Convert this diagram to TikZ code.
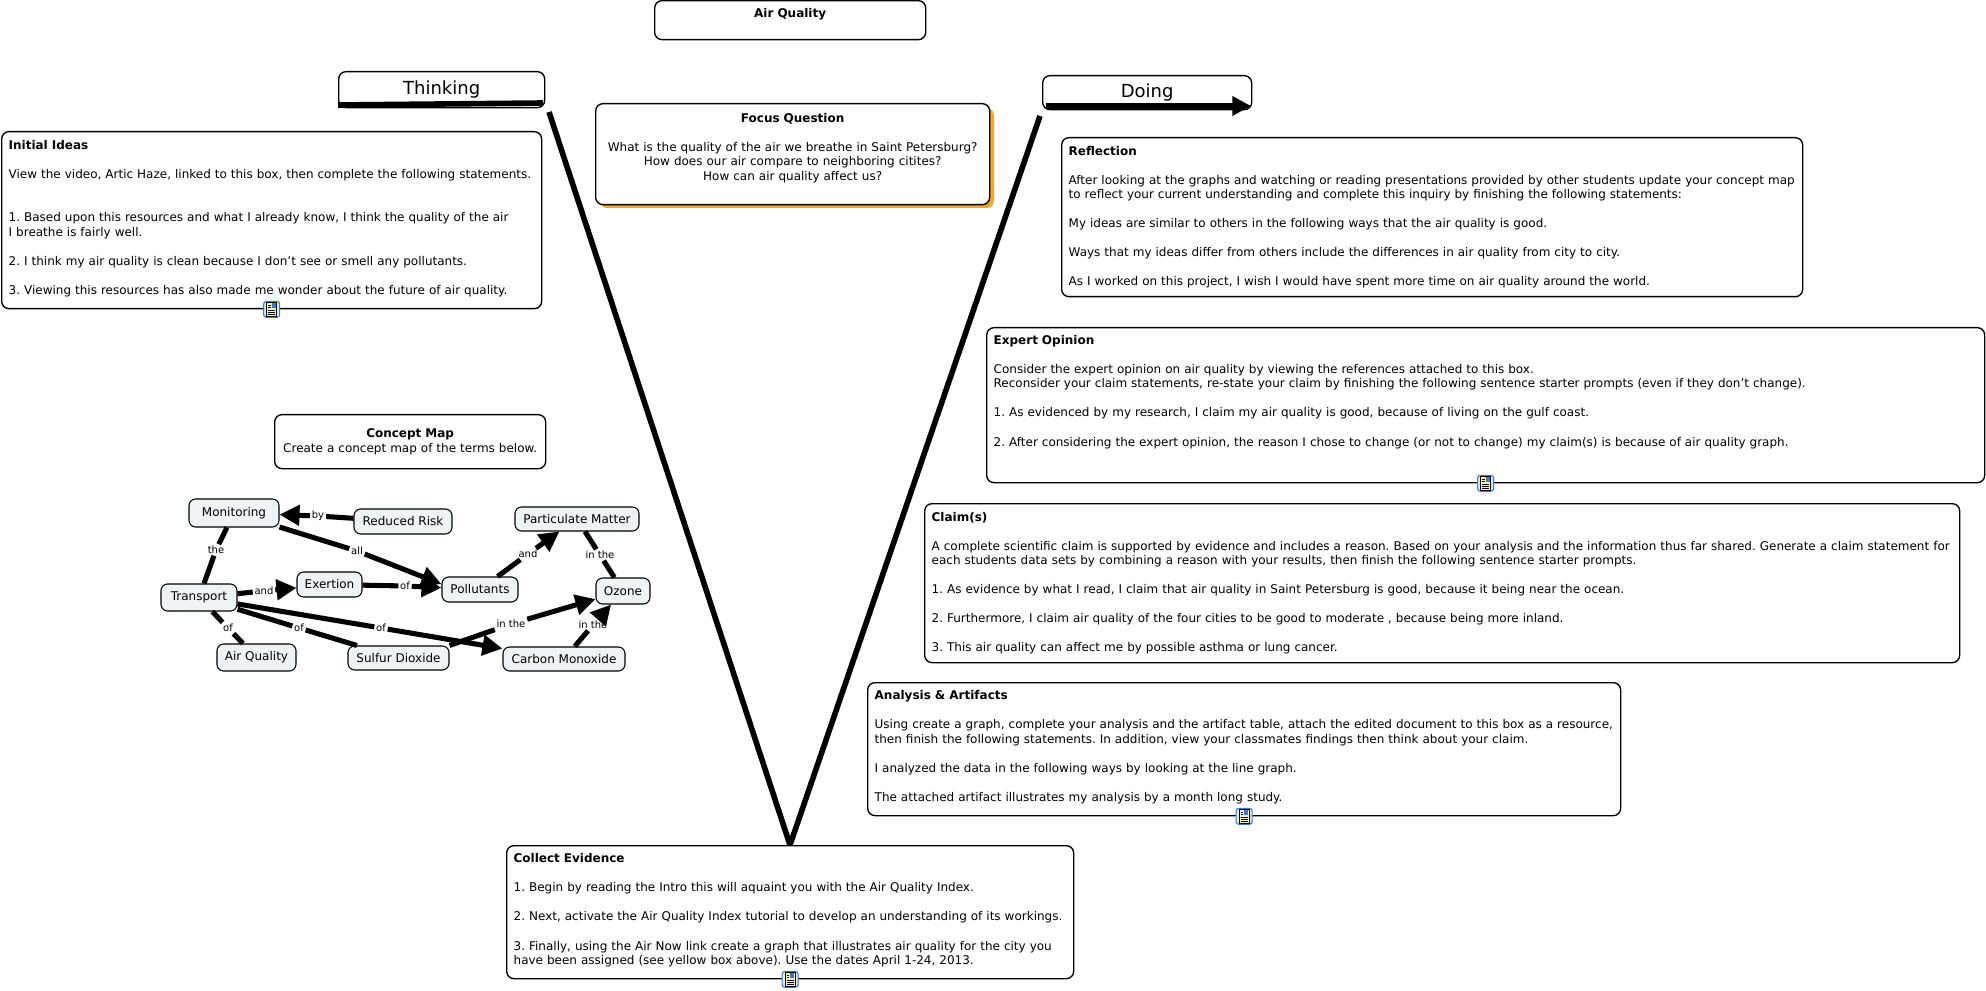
\documentclass[tikz,border=0pt]{standalone}
\usepackage{fontspec}
\setmainfont{DejaVu Sans}
\usepackage{xcolor}
\usetikzlibrary{arrows.meta, calc}
\definecolor{conceptfill}{HTML}{EEF4F6}
\definecolor{shadeorange}{HTML}{F5A623}
\definecolor{iconblue}{HTML}{3B7CC4}
\definecolor{iconfill}{HTML}{DCE9F7}
\definecolor{iconpage}{HTML}{FBF3B8}
\frenchspacing
\def\lifted{\\[-6.4pt]\mbox{}}

\begin{document}
\begin{tikzpicture}[
    x=0.75pt, y=-0.75pt,
    panel/.style 2 args={
        rectangle,
        draw=black,
        fill=white,
        rounded corners=5.5pt,
        line width=1pt,
        anchor=north west,
        inner sep=0pt,
        minimum width=#1*0.75pt,
        minimum height=#2*0.75pt,
        text width=(#1-14)*0.75pt,
        font=\fontsize{9}{10.9}\selectfont
    },
    concept/.style={
        rectangle,
        draw=black,
        fill=conceptfill,
        rounded corners=5pt,
        line width=0.8pt,
        inner sep=0pt,
        font=\fontsize{9}{11}\selectfont
    },
    lbl/.style={fill=white, inner sep=1.2pt, font=\fontsize{7.5}{9}\selectfont},
    link/.style={line width=3.8pt},
    arrow/.style={-{Triangle[length=15pt, width=15pt]}, line width=3.8pt},
    vee/.style={line width=4.2pt, miter limit=10},
    heading/.style={font=\fontsize{13.5}{17}\selectfont}
]
\useasboundingbox (0,0) rectangle (1986,991);

% The V
\coordinate (vleft) at (549,112);
\coordinate (vbase) at (790,845);
\coordinate (vright) at (1040,116);
\draw[vee] (vleft) -- (vbase) -- (vright);

% Title boxes
\node[panel={271}{39}, align=center] (title) at (654,0) {\textbf{Air Quality}\\\mbox{}};
\node[panel={206}{36}, heading, align=center] (think) at (338,71) {Thinking};
\node[panel={209}{34}, heading, align=center] (do) at (1042,75) {Doing};
\coordinate (thinka) at (338,105);
\coordinate (thinkb) at (543,103);
\coordinate (doa) at (1046,106);
\coordinate (dob) at (1251,106);
\draw[line width=4.2pt] (thinka) -- (thinkb);
\draw[-{Triangle[length=14pt, width=14pt]}, line width=4.2pt] (doa) -- (dob);

% Focus question
\fill[shadeorange, rounded corners=5.5pt] (600,108) rectangle (994,208);
\node[panel={394}{101}, align=center] (focus) at (595,103) {\textbf{Focus Question}\\[\baselineskip]
    What is the quality of the air we breathe in Saint Petersburg?\\
    How does our air compare to neighboring citites?\\
    How can air quality affect us?\\\mbox{}};

% Left side
\node[panel={540}{177}, align=left] (ideas) at (1,131) {\textbf{Initial Ideas}\\[\baselineskip]
    View the video, Artic Haze, linked to this box, then complete the following statements.\\[2\baselineskip]
    1. Based upon this resources and what I already know, I think the quality of the air\\
    I breathe is fairly well.\\[\baselineskip]
    2. I think my air quality is clean because I don't see or smell any pollutants.\\[\baselineskip]
    3. Viewing this resources has also made me wonder about the future of air quality.\lifted};
\node[panel={271}{54}, align=center] (mapnote) at (274,414) {\textbf{Concept Map}\\Create a concept map of the terms below.};

% Right side
\node[panel={741}{159}, align=left] (reflect) at (1061,137) {\textbf{Reflection}\\[\baselineskip]
    \mbox{After looking at the graphs and watching or reading presentations provided by other students update your concept map}\\
    to reflect your current understanding and complete this inquiry by finishing the following statements:\\[\baselineskip]
    My ideas are similar to others in the following ways that the air quality is good.\\[\baselineskip]
    Ways that my ideas differ from others include the differences in air quality from city to city.\\[\baselineskip]
    As I worked on this project, I wish I would have spent more time on air quality around the world.};
\node[panel={998}{155}, align=left] (expert) at (986,327) {\textbf{Expert Opinion}\\[\baselineskip]
    Consider the expert opinion on air quality by viewing the references attached to this box.\\
    Reconsider your claim statements, re-state your claim by finishing the following sentence starter prompts (even if they don't change).\\[\baselineskip]
    1. As evidenced by my research, I claim my air quality is good, because of living on the gulf coast.\\[\baselineskip]
    2. After considering the expert opinion, the reason I chose to change (or not to change) my claim(s) is because of air quality graph.\\[\baselineskip]\mbox{}};
\node[panel={1035}{159}, align=left] (claim) at (924,503) {\textbf{Claim(s)}\\[\baselineskip]
    \mbox{A complete scientific claim is supported by evidence and includes a reason. Based on your analysis and the information thus far shared. Generate a claim statement for}\\
    each students data sets by combining a reason with your results, then finish the following sentence starter prompts.\\[\baselineskip]
    1. As evidence by what I read, I claim that air quality in Saint Petersburg is good, because it being near the ocean.\\[\baselineskip]
    2. Furthermore, I claim air quality of the four cities to be good to moderate , because being more inland.\\[\baselineskip]
    3. This air quality can affect me by possible asthma or lung cancer.};
\node[panel={753}{133}, align=left] (analysis) at (867,682) {\textbf{Analysis \& Artifacts}\\[\baselineskip]
    \mbox{Using create a graph, complete your analysis and the artifact table, attach the edited document to this box as a resource,}\\
    then finish the following statements. In addition, view your classmates findings then think about your claim.\\[\baselineskip]
    I analyzed the data in the following ways by looking at the line graph.\\[\baselineskip]
    The attached artifact illustrates my analysis by a month long study.\lifted};
\node[panel={567}{133}, align=left] (collect) at (506,845) {\textbf{Collect Evidence}\\[\baselineskip]
    1. Begin by reading the Intro this will aquaint you with the Air Quality Index.\\[\baselineskip]
    2. Next, activate the Air Quality Index tutorial to develop an understanding of its workings.\\[\baselineskip]
    3. Finally, using the Air Now link create a graph that illustrates air quality for the city you\\
    have been assigned (see yellow box above). Use the dates April 1-24, 2013.\lifted};

% Resource icons
\foreach \owner in {ideas, expert, analysis, collect} {
    \node[draw=iconblue, fill=iconfill, rounded corners=2pt, line width=0.8pt, minimum size=12pt, inner sep=0pt] (icon-\owner) at (\owner.south) {};
    \fill[iconpage, draw=black, line width=0.5pt] ($(\owner.south)+(-5,-7)$) rectangle ($(\owner.south)+(5,7)$);
    \fill[iconblue] ($(\owner.south)+(0,-6)$) rectangle ($(\owner.south)+(4,-1)$);
    \foreach \dy in {1,3,5} {
        \draw[line width=0.5pt] ($(\owner.south)+(-3.5,\dy)$) -- ($(\owner.south)+(3.5,\dy)$);
    }
    \draw[line width=0.5pt] ($(\owner.south)+(-3.5,-4)$) -- ($(\owner.south)+(-1,-4)$);
    \draw[line width=0.5pt] ($(\owner.south)+(-3.5,-2)$) -- ($(\owner.south)+(-1,-2)$);
}

% Concepts
\node[concept, minimum width=67.5pt, minimum height=21pt] (mon) at (234,513) {Monitoring};
\node[concept, minimum width=73.5pt, minimum height=18.75pt] (risk) at (403,521.5) {Reduced Risk};
\node[concept, minimum width=93pt, minimum height=18pt] (part) at (577,519) {Particulate Matter};
\node[concept, minimum width=57pt, minimum height=20.25pt] (trans) at (199,597.5) {Transport};
\node[concept, minimum width=48.75pt, minimum height=18.75pt] (exer) at (329.5,584.5) {Exertion};
\node[concept, minimum width=57pt, minimum height=18.75pt] (poll) at (480,589.5) {Pollutants};
\node[concept, minimum width=40.5pt, minimum height=19.5pt] (ozone) at (623,591) {Ozone};
\node[concept, minimum width=59.25pt, minimum height=20.25pt] (air) at (256.5,657.5) {Air Quality};
\node[concept, minimum width=75.75pt, minimum height=18pt] (sulf) at (398.5,658) {Sulfur Dioxide};
\node[concept, minimum width=91.5pt, minimum height=18pt] (carb) at (564,659) {Carbon Monoxide};

% Linking phrases
\node[lbl] (by) at (318,516) {by};
\node[lbl] (the) at (216,550) {the};
\node[lbl] (all) at (357,551) {all};
\node[lbl] (and1) at (264,591) {and};
\node[lbl] (of1) at (405,586) {of};
\node[lbl] (and2) at (528,554) {and};
\node[lbl] (in1) at (600,555) {in the};
\node[lbl] (of2) at (228,628) {of};
\node[lbl] (of3) at (299,628) {of};
\node[lbl] (of4) at (381,628) {of};
\node[lbl] (in2) at (511,624) {in the};
\node[lbl] (in3) at (593,625) {in the};

% Connectors
\draw[link] (risk) -- (by);
\draw[arrow] (by) -- (mon);
\draw[link] (trans) -- (the);
\draw[link] (the) -- (mon);
\draw[link] (mon) -- (all);
\draw[arrow] (all) -- (poll.172);
\draw[link] (trans) -- (and1);
\draw[arrow] (and1) -- (exer);
\draw[link] (exer) -- (of1);
\draw[arrow] (of1) -- (poll);
\draw[link] (poll) -- (and2);
\draw[arrow] (and2) -- (part);
\draw[link] (part) -- (in1);
\draw[link] (in1) -- (ozone);
\draw[link] (trans) -- (of2);
\draw[link] (of2) -- (air);
\draw[link] (trans) -- (of3);
\draw[link] (of3) -- (sulf);
\draw[link] (trans) -- (of4);
\draw[arrow] (of4) -- (carb);
\draw[link] (sulf.north east) -- (in2);
\draw[arrow] (in2) -- (ozone);
\draw[link] (carb) -- (in3);
\draw[arrow] (in3) -- (ozone);

\end{tikzpicture}
\end{document}
